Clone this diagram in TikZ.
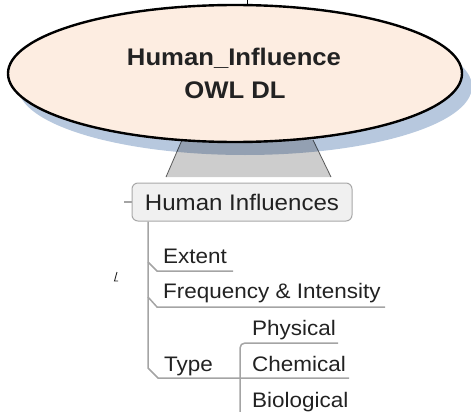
\documentclass[tikz,border=0pt]{standalone}
\usepackage{fontspec}
\setmainfont{Liberation Sans}[FakeStretch=1.07]
\usetikzlibrary{shapes.geometric}
\definecolor{hubfill}{HTML}{FDEDE1}
\definecolor{hubshadow}{HTML}{B7C8DE}
\definecolor{stemfill}{HTML}{CDCDCD}
\definecolor{branchgray}{HTML}{A4A4A4}
\definecolor{boxfill}{HTML}{F0F0F0}
\definecolor{boxline}{HTML}{A8A8A8}
\definecolor{ink}{HTML}{222222}
\tikzset{
  hub/.style={ellipse, draw=black, line width=2.4pt, fill=hubfill,
    minimum width=454pt, minimum height=137pt, inner sep=0pt},
  titletext/.style={anchor=base, text=ink, inner sep=0pt,
    font=\fontsize{24}{28}\selectfont\bfseries},
  rootbox/.style={draw=boxline, line width=1pt, fill=boxfill, rounded corners=6pt,
    minimum width=220pt, minimum height=38pt, text height=16pt, text depth=0pt,
    inner sep=0pt, text=ink, font=\fontsize{22.5}{26}\selectfont},
  leaf/.style={anchor=base west, inner sep=0pt, text=ink,
    font=\fontsize{21}{25}\selectfont},
  branch/.style={draw=branchgray, line width=1.5pt},
  stemside/.style={draw=black!65, line width=0.8pt},
}
\begin{document}
\begin{tikzpicture}[x=1pt, y=-1pt]
\useasboundingbox (0,0) rectangle (471,412);

% grey stem below the central ellipse
\fill[stemfill] (182,140) -- (166,177) -- (331,177) -- (313,140) -- cycle;
\draw[stemside] (182,140) -- (166,177);
\draw[stemside] (313,140) -- (331,177);

% drop shadow of the central ellipse
\begin{scope}[blend mode=multiply]
  \fill[hubshadow] (245,86.5) ellipse [x radius=227, y radius=68.5];
\end{scope}

% central ellipse with its title
\node[hub] (hub) at (235,73.5) {};
\node[titletext] (title1) at (234,66) {Human\_Influence};
\node[titletext] (title2) at (235,98) {OWL DL};
\draw[line width=1pt] (247,0) -- (247,5);

% root topic
\node[rootbox] (root) at (242,202) {Human Influences};
\coordinate (lefttick) at (124,202);
\draw[branch, line width=1.2pt] (lefttick) -- (root.west);

% child topics
\node[leaf] (extent) at (163,263) {Extent};
\node[leaf] (freq) at (163,298) {Frequency \& Intensity};
\node[leaf] (type) at (164,371) {Type};
\node[leaf] (phys) at (252,335) {Physical};
\node[leaf] (chem) at (252,371) {Chemical};
\node[leaf] (bio) at (252,407) {Biological};

% tree connectors
\coordinate (trunk) at (root.south west -| 148,0);
\draw[branch] (trunk) -- (148,368) -- (158,378) -- (chem.base east |- 0,378) -- (349,378);
\draw[branch] (148,262) -- (157,271) -- (233,271);
\draw[branch] (148,297) -- (157,307) -- (385,307);
\draw[branch, rounded corners=5pt] (338,343) -- (240,343) -- (240,412);

% small stray stroke
\draw[ink, line width=0.9pt] (117,272) -- (114.5,281) -- (118,281);
\end{tikzpicture}
\end{document}
